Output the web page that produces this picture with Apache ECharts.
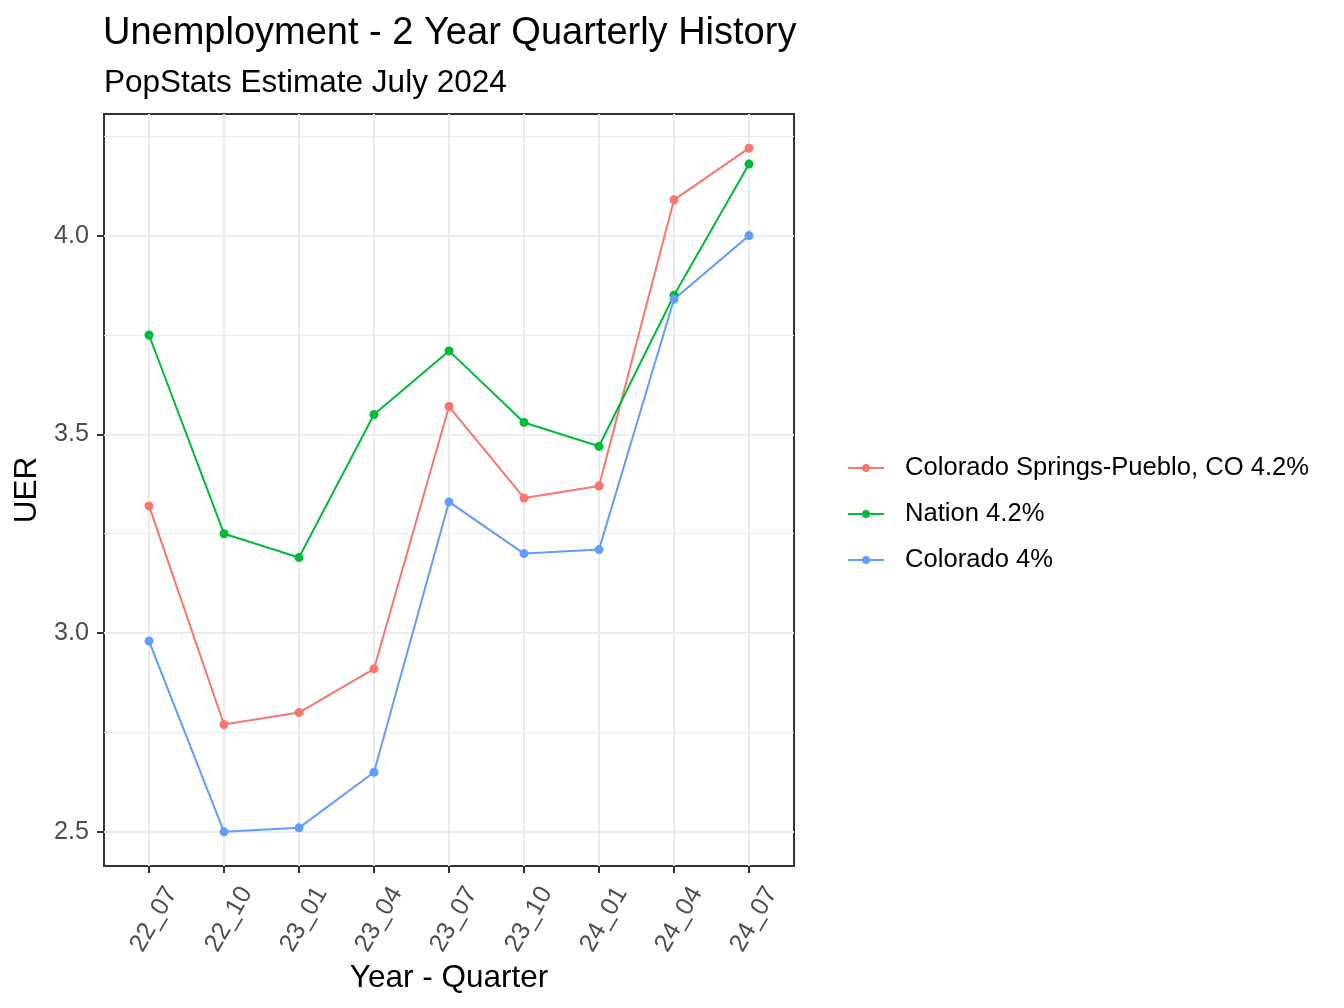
<!DOCTYPE html>
<html>
<head>
<meta charset="utf-8">
<script src="https://cdn.jsdelivr.net/npm/echarts@6/dist/echarts.min.js"></script>
<style>
  html, body { margin: 0; padding: 0; background: #fff; }
  #chart { width: 1344px; height: 1008px; }
</style>
</head>
<body>
<div id="chart"></div>
<script>
const quarters = ['22_07', '22_10', '23_01', '23_04', '23_07', '23_10', '24_01', '24_04', '24_07'];
const springsPueblo = [3.32, 2.77, 2.80, 2.91, 3.57, 3.34, 3.37, 4.09, 4.22];
const nation = [3.75, 3.25, 3.19, 3.55, 3.71, 3.53, 3.47, 3.85, 4.18];
const colorado = [2.98, 2.50, 2.51, 2.65, 3.33, 3.20, 3.21, 3.84, 4.00];
const seriesNames = ['Colorado Springs-Pueblo, CO 4.2%', 'Nation 4.2%', 'Colorado 4%'];
const seriesColors = ['#F8766D', '#00BA38', '#619CFF'];
const yMajor = [2.5, 3.0, 3.5, 4.0];
const yMinor = [2.75, 3.25, 3.75, 4.25];

const FONT = '"Liberation Sans", Arial, sans-serif';

// ggplot-like 5% expansion of the data range
const allVals = springsPueblo.concat(nation, colorado);
const lo = Math.min(...allVals), hi = Math.max(...allVals);
const pad = (hi - lo) * 0.05;
const xIdx = quarters.map((q, i) => i);

function makeSeries(name, values, color) {
    return {
        name: name,
        type: 'line',
        symbol: 'circle',
        symbolSize: 9,
        showSymbol: true,
        emphasis: { disabled: true },
        lineStyle: { color: color, width: 2 },
        itemStyle: { color: color },
        data: values.map((v, i) => [i, v])
    };
}

const chart = echarts.init(document.getElementById('chart'), null, { renderer: 'canvas' });

chart.setOption({
    animation: false,
    backgroundColor: '#ffffff',
    textStyle: { fontFamily: FONT },
    title: [
        {
            text: 'Unemployment - 2 Year Quarterly History',
            left: 98, top: 10,
            textStyle: { fontFamily: FONT, fontSize: 38, fontWeight: 'normal', color: '#000' }
        },
        {
            text: 'PopStats Estimate July 2024',
            left: 99, top: 62,
            textStyle: { fontFamily: FONT, fontSize: 31.5, fontWeight: 'normal', color: '#000' }
        }
    ],
    legend: {
        orient: 'vertical',
        left: 842,
        top: 450,
        itemWidth: 36,
        itemHeight: 10,
        itemGap: 20,
        data: seriesNames,
        textStyle: { fontFamily: FONT, fontSize: 25.6, lineHeight: 26, color: '#000', padding: [0, 0, 0, 16] }
    },
    grid: {
        left: 104, right: 550, top: 114, bottom: 142,
        show: true,
        borderColor: '#333333',
        borderWidth: 2,
        containLabel: false,
        outerBoundsMode: 'none'
    },
    xAxis: {
        type: 'value',
        min: -0.6,
        max: quarters.length - 1 + 0.6,
        name: 'Year - Quarter',
        nameLocation: 'middle',
        nameGap: 96,
        nameMoveOverlap: false,
        nameTextStyle: { fontFamily: FONT, fontSize: 31.5, color: '#000' },
        axisLine: { show: false, onZero: false },
        axisTick: { show: true, length: 7, customValues: xIdx, lineStyle: { color: '#333333', width: 2 } },
        axisLabel: {
            customValues: xIdx,
            rotate: 60,
            margin: 10,
            verticalAlign: 'top',
            lineHeight: 52,
            fontFamily: FONT,
            fontSize: 25.2,
            color: '#4D4D4D',
            formatter: v => quarters[Math.round(v)]
        },
        splitLine: { show: true, lineStyle: { color: '#EBEBEB', width: 2 } }
    },
    yAxis: [
        {
            type: 'value',
            min: lo - pad,
            max: hi + pad,
            name: 'UER',
            nameLocation: 'middle',
            nameGap: 58,
            nameRotate: 90,
            nameTextStyle: { fontFamily: FONT, fontSize: 31.5, color: '#000' },
            axisLine: { show: false, onZero: false },
            axisTick: { show: true, length: 7, customValues: yMajor, lineStyle: { color: '#333333', width: 2 } },
            axisLabel: {
                customValues: yMajor,
                margin: 15,
                fontFamily: FONT,
                fontSize: 25.2,
                color: '#4D4D4D',
                formatter: v => v.toFixed(1)
            },
            splitLine: { show: true, lineStyle: { color: '#EBEBEB', width: 2 } }
        },
        {
            // minor grid lines only
            type: 'value',
            position: 'left',
            min: lo - pad,
            max: hi + pad,
            axisLine: { show: false, onZero: false },
            axisTick: { show: false, customValues: yMinor },
            axisLabel: { show: false, customValues: yMinor },
            splitLine: { show: true, lineStyle: { color: '#EBEBEB', width: 1 } }
        }
    ],
    series: [
        makeSeries(seriesNames[0], springsPueblo, seriesColors[0]),
        makeSeries(seriesNames[1], nation, seriesColors[1]),
        makeSeries(seriesNames[2], colorado, seriesColors[2])
    ]
});
</script>
</body>
</html>
